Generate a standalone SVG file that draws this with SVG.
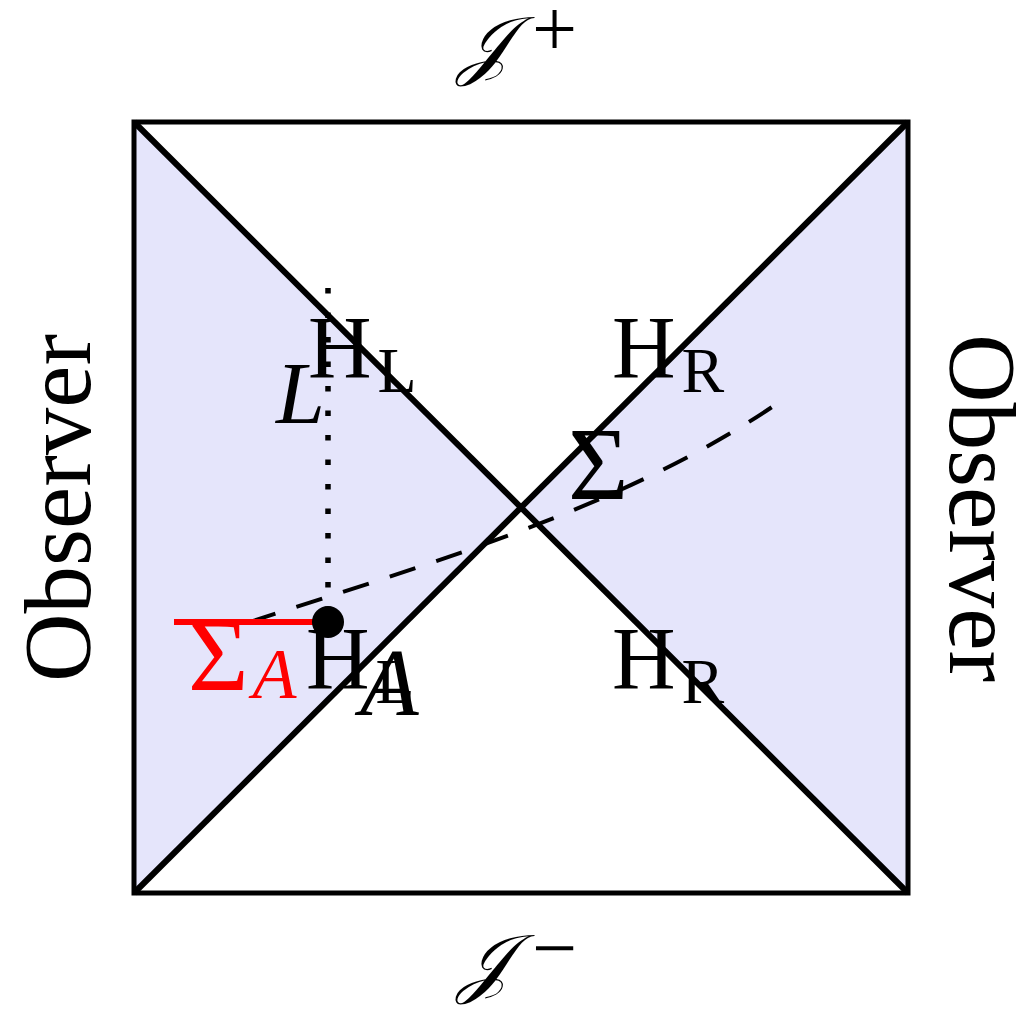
<svg xmlns="http://www.w3.org/2000/svg" width="1024" height="1024" viewBox="0 0 1024 1024">
<style>
.lbl{font-family:"Liberation Serif","DejaVu Serif",serif;fill:#000}
.it{font-style:italic}
.big{font-size:88px}
.sub{font-size:64px}
.obs{font-size:95px}
.sig{font-size:104px}
.scr{font-size:76px}
.sup{font-size:80px}
</style>
<rect width="1024" height="1024" fill="#fff"/>
<g id="shading">
<polygon points="134,122 521,507.5 134,893" fill="#e5e5fb"/>
<polygon points="908,122 521,507.5 908,893" fill="#e5e5fb"/>
</g>
<g id="connectors" fill="none" stroke="#000">
<line x1="134" y1="122" x2="908" y2="893" stroke-width="6"/>
<line x1="908" y1="122" x2="134" y2="893" stroke-width="6"/>
<path d="M250,622 C420,566 620,510 775,405" stroke-width="4" stroke-dasharray="27 22"/>
<line x1="328" y1="288" x2="328" y2="610" stroke-width="5.5" stroke-dasharray="5.5 19"/>
<line x1="174" y1="622" x2="328" y2="622" stroke="#f00" stroke-width="6"/>
</g>
<g id="frame">
<rect x="134" y="122" width="774" height="771" fill="none" stroke="#000" stroke-width="5"/>
</g>
<g id="point"><circle cx="328" cy="622" r="16" fill="#000"/></g>
<g id="labels">
<text class="lbl it scr" x="458" y="70">𝒥</text><text class="lbl sup" x="532" y="56">+</text>
<text class="lbl it scr" x="458" y="988">𝒥</text><text class="lbl sup" x="532" y="975">−</text>
<text class="lbl obs" transform="translate(90,508) rotate(-90)" text-anchor="middle">Observer</text>
<text class="lbl obs" transform="translate(950,508) rotate(90)" text-anchor="middle">Observer</text>
<text class="lbl big" x="308" y="377">H<tspan class="sub" dx="6" dy="15">L</tspan></text>
<text class="lbl big" x="612" y="377">H<tspan class="sub" dx="6" dy="15">R</tspan></text>
<text class="lbl big" x="612" y="688">H<tspan class="sub" dx="6" dy="15">R</tspan></text>
<text class="lbl big" x="306" y="688">H<tspan class="sub" dx="6" dy="15">L</tspan></text>
<text class="lbl big it" x="276" y="423">L</text>
<text class="lbl it" x="360" y="715" font-size="96">A</text>
<text class="lbl sig" x="568" y="499">Σ</text>
<text class="lbl sig" x="188" y="690" fill="#f00" style="fill:#f00">Σ<tspan class="it" font-size="72" dx="4" dy="8">A</tspan></text>
</g>
</svg>
